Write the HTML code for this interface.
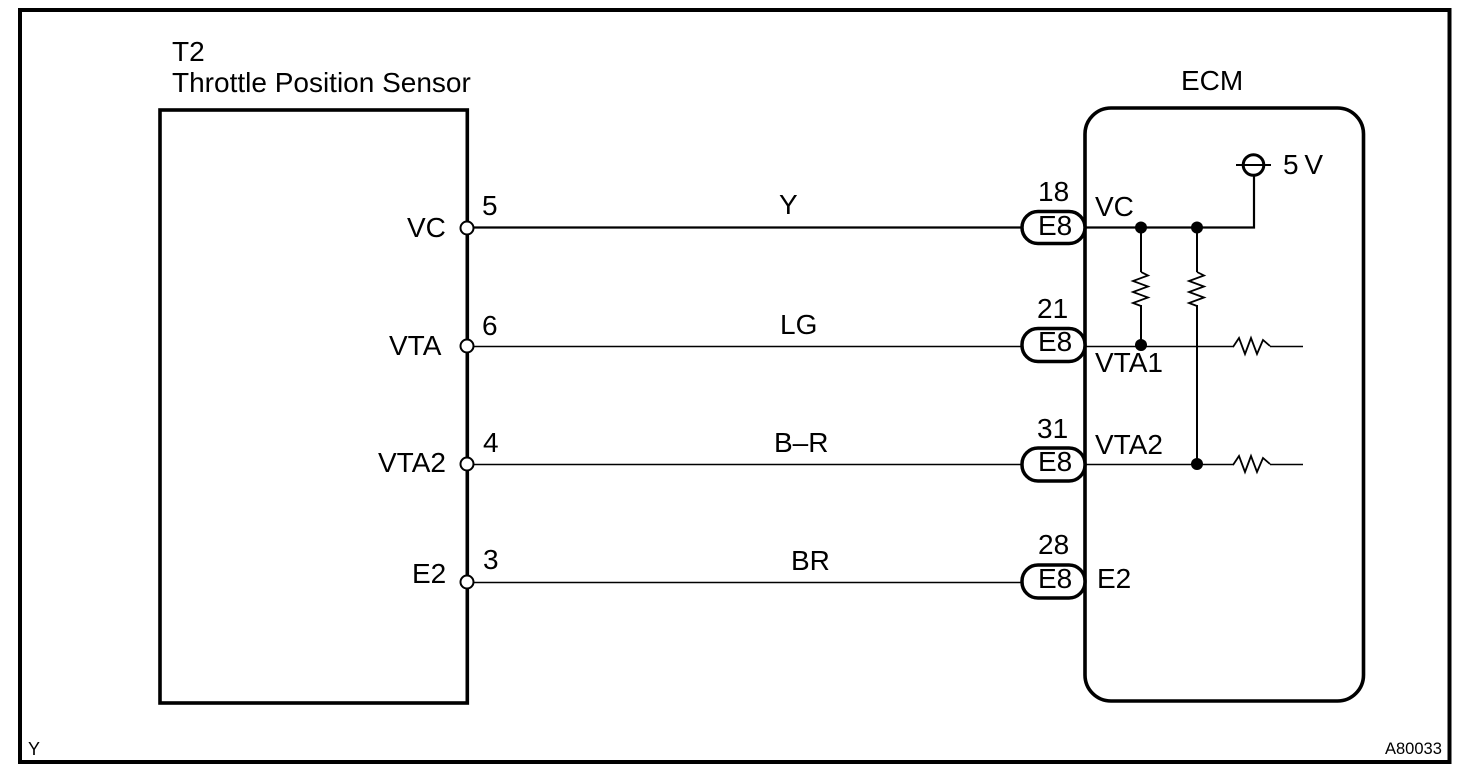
<!DOCTYPE html>
<html><head><meta charset="utf-8"><style>
html,body{margin:0;padding:0;background:#fff}
svg{display:block}
text{font-family:"Liberation Sans",sans-serif;font-size:28px;fill:#000}
</style></head><body>
<svg width="1472" height="778" viewBox="0 0 1472 778" xmlns="http://www.w3.org/2000/svg">
<rect x="20" y="10" width="1429.500" height="752" fill="none" stroke="#000" stroke-width="4"/>
<rect x="160" y="110" width="307.300" height="593" fill="none" stroke="#000" stroke-width="3.600"/>
<rect x="1085" y="108" width="278.500" height="593" rx="26" fill="none" stroke="#000" stroke-width="3.600"/>
<g stroke="#000" fill="none">
<path d="M467 227.500H1022M1085 227.500H1254V165" stroke-width="2.200"/>
<path d="M467 346.500H1022M1085 346.500H1234M1270 346.500H1303M467 464.500H1022M1085 464.500H1234M1270 464.500H1303M467 582.500H1022" stroke-width="1.500"/>
<path d="M1141 227V272M1141 305V345M1197 227V272M1197 305V464" stroke-width="2"/>
<path d="M1141 272L1148 275.500L1133 281L1148 286.500L1133 292L1148 297.500L1133 303L1141 306M1197 272L1204 275.500L1189 281L1204 286.500L1189 292L1204 297.500L1189 303L1197 306" stroke-width="1.800"/>
<path d="M1233 347L1239 338L1245 354L1251 338L1257 354L1263 340L1270 346M1233 465L1239 456L1245 472L1251 456L1257 472L1263 458L1270 464" stroke-width="1.800"/>
<circle cx="1253.500" cy="165" r="10.300" fill="#fff" stroke-width="3"/>
<path d="M1236 165H1271" stroke-width="2"/>
<g fill="#fff" stroke-width="2">
<circle cx="467" cy="228" r="6.500"/><circle cx="467" cy="346" r="6.500"/><circle cx="467" cy="464" r="6.500"/><circle cx="467" cy="582" r="6.500"/>
</g>
<g fill="#fff" stroke-width="3.500">
<rect x="1022" y="211.500" width="63" height="32" rx="16"/>
<rect x="1022" y="328.500" width="63" height="33" rx="16"/>
<rect x="1022" y="448" width="63" height="33" rx="16"/>
<rect x="1022" y="565" width="63" height="33" rx="16"/>
</g>
</g>
<g fill="#000">
<circle cx="1141" cy="227.500" r="6"/><circle cx="1197" cy="227.500" r="6"/><circle cx="1141" cy="345" r="6"/><circle cx="1197" cy="464" r="6"/>
</g>
<text x="172" y="61">T2</text>
<text x="172" y="92">Throttle Position Sensor</text>
<text x="1181" y="90">ECM</text>
<text x="1283" y="174" textLength="40">5 V</text>
<text x="407" y="237">VC</text><text x="389" y="355">VTA</text><text x="378" y="472">VTA2</text><text x="412" y="583">E2</text>
<text x="482" y="215">5</text><text x="482" y="335">6</text><text x="483" y="452">4</text><text x="483" y="569">3</text>
<text x="779" y="214">Y</text><text x="780" y="334">LG</text><text x="774" y="452">B–R</text><text x="791" y="570">BR</text>
<text x="1038" y="201">18</text><text x="1037" y="318">21</text><text x="1037" y="438">31</text><text x="1038" y="554">28</text>
<text x="1038" y="235">E8</text><text x="1038" y="351">E8</text><text x="1038" y="471">E8</text><text x="1038" y="588">E8</text>
<text x="1095" y="216">VC</text><text x="1095" y="372">VTA1</text><text x="1095" y="454">VTA2</text><text x="1097" y="588">E2</text>
<text x="28" y="755" style="font-size:18px">Y</text>
<text x="1385" y="754" style="font-size:16.500px">A80033</text>
</svg>
</body></html>
